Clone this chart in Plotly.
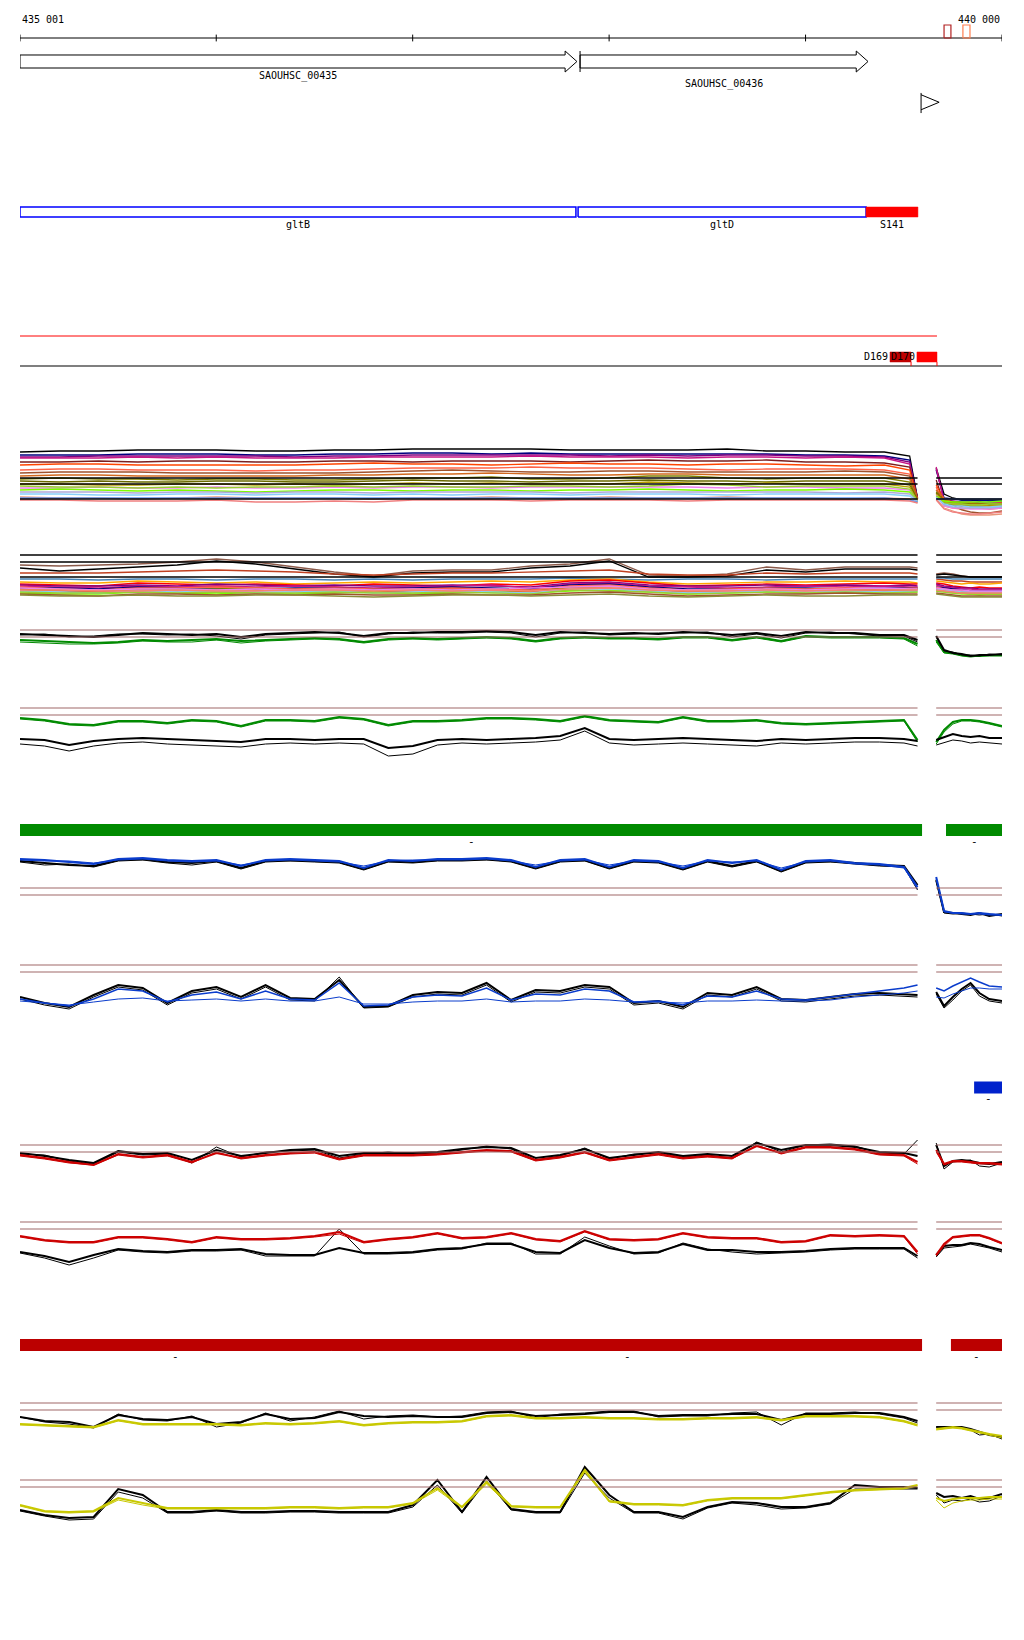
import plotly.graph_objects as go

# the page body adds an 8 px margin, so the figure is 8 px smaller on each axis
PAGE_OFFSET = 8
FIG_W, FIG_H = 1024 - PAGE_OFFSET, 1640 - PAGE_OFFSET
FONT = "DejaVu Sans Mono"

# genomic window shown (bp) and the uncovered stretch between the two blocks
WIN_START, WIN_END = 435001, 440000
GAP_FROM, GAP_TO = 439570, 439665
RIGHT_END = 440000

RULER_TICKS = [435001, 436000, 437000, 438000, 439000, 440000]
MARK_START = [439705, 439801]
MARK_END = [439740, 439837]

GENE_NAMES = ["SAOUHSC_00435", "SAOUHSC_00436"]
GENE_START = [435001, 437852]
GENE_END = [437836, 439318]
TERMINATOR_POS = [439588]

ANNOT_NAMES = ["gltB", "gltD", "S141"]
ANNOT_START = [435001, 437842, 439308]
ANNOT_END = [437831, 439308, 439572]

TRANSCRIPT_END = 439669
D_NAMES = ["D169", "D170"]
D_START = [439430, 439567]
D_END = [439537, 439669]

GREEN_START = [435001, 439715]
GREEN_END = [439593, 440000]
BLUE_START = [439858]
BLUE_END = [440000]
DARKRED_START = [435001, 436589, 439740]
DARKRED_END = [436589, 439593, 440000]

# probe positions (bp)
RIGHT_X = [439665, 439705, 439750, 439795, 439840, 439885, 439935, 440000]
FINE_X = list(range(435001, 439502, 125)) + [439570] + RIGHT_X
COARSE_X = list(range(435001, 439402, 200)) + [439530, 439570] + RIGHT_X

# ---- multi-condition profiles (coarse grid) ----
T1_LINES = [
    [68, 69, 69, 70, 70, 70, 69, 69, 70, 70, 71, 71, 71, 71, 70, 70, 70, 70, 71, 69, 69, 68, 68, 64, 22, 52, 26, 22, 20, 20, 19, 20, 20],
    [65, 65, 65, 66, 66, 66, 65, 65, 66, 66, 67, 67, 66, 67, 66, 66, 66, 66, 66, 66, 65, 65, 64, 60, 21, 50, 22, 21, 20, 20, 20, 19, 19],
    [63, 63, 64, 64, 64, 64, 64, 63, 64, 64, 65, 65, 65, 65, 65, 64, 65, 64, 65, 65, 64, 64, 63, 58, 21, 51, 20, 19, 18, 18, 17, 17, 17],
    [62, 62, 62, 63, 62, 63, 62, 62, 62, 63, 63, 63, 63, 64, 63, 63, 63, 62, 63, 63, 62, 63, 62, 56, 20, 53, 18, 17, 16, 17, 16, 16, 16],
    [58, 58, 59, 58, 59, 59, 58, 58, 59, 59, 58, 59, 59, 59, 58, 59, 60, 59, 59, 60, 58, 58, 57, 53, 22, 40, 16, 15, 14, 15, 14, 14, 15],
    [55, 56, 56, 55, 55, 55, 55, 55, 56, 57, 56, 56, 55, 56, 57, 56, 56, 55, 56, 56, 55, 54, 55, 50, 21, 35, 20, 18, 17, 17, 16, 16, 17],
    [50, 51, 51, 50, 50, 50, 49, 50, 50, 51, 52, 52, 52, 53, 52, 52, 52, 51, 50, 51, 51, 51, 50, 46, 20, 33, 14, 12, 11, 12, 12, 11, 12],
    [47, 48, 48, 48, 47, 47, 47, 47, 47, 48, 49, 50, 49, 48, 48, 49, 49, 48, 48, 48, 48, 49, 48, 44, 21, 30, 18, 15, 10, 8, 7, 7, 9],
    [44, 45, 45, 44, 44, 44, 44, 44, 45, 45, 46, 46, 47, 46, 45, 45, 46, 46, 45, 45, 45, 45, 45, 41, 20, 30, 22, 17, 14, 13, 13, 13, 14],
    [41, 42, 41, 41, 40, 41, 41, 40, 40, 41, 42, 42, 43, 41, 41, 42, 44, 44, 42, 41, 42, 42, 42, 38, 19, 28, 19, 18, 17, 16, 16, 16, 16],
    [39, 38, 39, 38, 38, 39, 39, 38, 38, 39, 40, 39, 39, 38, 39, 39, 40, 39, 39, 38, 39, 39, 39, 35, 20, 27, 17, 15, 15, 14, 14, 15, 14],
    [36, 36, 35, 35, 36, 36, 35, 36, 35, 36, 37, 36, 37, 36, 36, 36, 38, 37, 36, 37, 36, 36, 36, 33, 19, 26, 18, 16, 15, 15, 15, 14, 15],
    [32, 32, 33, 32, 32, 33, 32, 32, 33, 32, 33, 33, 32, 33, 33, 33, 33, 33, 32, 33, 33, 32, 32, 30, 18, 25, 14, 12, 12, 11, 11, 11, 12],
    [34, 33, 33, 32, 33, 32, 33, 33, 34, 33, 34, 33, 33, 34, 34, 33, 34, 36, 35, 33, 34, 34, 34, 31, 19, 24, 17, 16, 16, 15, 15, 16, 16],
    [30, 31, 30, 29, 30, 29, 28, 29, 30, 30, 29, 30, 30, 29, 30, 30, 31, 30, 29, 30, 30, 31, 30, 28, 18, 24, 19, 18, 18, 18, 18, 18, 19],
    [28, 28, 28, 27, 28, 28, 27, 28, 28, 27, 28, 28, 28, 28, 27, 28, 28, 28, 28, 28, 28, 27, 28, 26, 19, 23, 15, 13, 12, 12, 12, 12, 13],
    [26, 26, 25, 25, 26, 26, 25, 26, 26, 25, 26, 25, 26, 26, 25, 26, 26, 26, 25, 26, 26, 26, 26, 24, 18, 22, 16, 14, 14, 13, 13, 13, 14],
    [23, 22, 22, 21, 22, 23, 22, 22, 22, 21, 22, 22, 23, 22, 22, 23, 22, 22, 23, 22, 22, 21, 22, 21, 17, 21, 12, 9, 6, 5, 5, 5, 6],
    [22, 22, 22, 22, 22, 22, 22, 22, 22, 22, 22, 22, 22, 22, 22, 22, 22, 22, 22, 22, 22, 22, 22, 20, 18, 21, 21, 21, 21, 21, 21, 21, 21],
    [20, 20, 19, 19, 19, 20, 18, 18, 19, 18, 20, 20, 20, 19, 20, 20, 20, 19, 20, 20, 20, 20, 20, 19, 17, 20, 11, 8, 7, 6, 6, 7, 8],
]
T1_COLORS = ["#000000", "#000080", "#800080", "#c71585", "#7b1f1f", "#ff4500", "#ff6347",
             "#a0522d", "#d2691e", "#808000", "#6b6b00", "#b8a000", "#ee82ee", "#9acd32",
             "#7cfc00", "#b0a8d8", "#87cefa", "#e9967a", "#6495ed", "#f08080"]
T1_REFS = [42, 36, 21]

T2_LINES = [
    [45, 44, 45, 46, 48, 51, 48, 43, 38, 34, 39, 40, 40, 44, 46, 51, 35, 34, 36, 43, 40, 43, 43, 43, 42, 36, 37, 36, 34, 33, 33, 33, 33],
    [42, 39, 41, 43, 45, 49, 46, 41, 36, 33, 37, 38, 38, 42, 44, 49, 33, 33, 34, 40, 38, 41, 41, 41, 40, 35, 36, 35, 34, 33, 33, 33, 33],
    [37, 37, 37, 38, 39, 40, 39, 38, 36, 35, 36, 37, 37, 38, 39, 40, 36, 35, 35, 37, 36, 37, 37, 37, 36, 31, 30, 29, 29, 28, 28, 28, 28],
    [31, 31, 30, 31, 31, 30, 31, 31, 30, 31, 30, 31, 31, 31, 32, 31, 30, 31, 31, 30, 31, 31, 31, 31, 31, 32, 32, 31, 31, 31, 31, 31, 31],
    [28, 27, 27, 29, 28, 27, 28, 26, 27, 28, 27, 28, 29, 28, 30, 31, 28, 26, 27, 28, 28, 29, 28, 28, 27, 29, 28, 27, 26, 27, 26, 26, 27],
    [26, 25, 24, 27, 26, 25, 26, 25, 24, 26, 25, 24, 26, 25, 29, 30, 27, 24, 25, 26, 25, 26, 27, 26, 26, 27, 26, 24, 23, 22, 23, 22, 22],
    [25, 24, 24, 25, 24, 26, 25, 24, 25, 24, 24, 25, 24, 23, 27, 28, 25, 24, 24, 25, 24, 25, 24, 25, 24, 26, 24, 23, 22, 22, 21, 21, 21],
    [24, 23, 22, 24, 23, 24, 23, 24, 23, 22, 23, 24, 25, 22, 26, 27, 24, 23, 22, 23, 24, 23, 24, 23, 23, 25, 23, 22, 21, 21, 20, 20, 20],
    [22, 22, 21, 23, 22, 22, 21, 22, 22, 21, 22, 23, 22, 21, 25, 26, 23, 21, 21, 22, 22, 21, 22, 22, 22, 23, 22, 21, 20, 19, 19, 19, 19],
    [21, 20, 19, 21, 20, 21, 22, 20, 21, 19, 20, 21, 20, 19, 23, 24, 21, 19, 20, 21, 20, 21, 20, 20, 21, 22, 20, 19, 18, 18, 18, 17, 17],
    [23, 21, 20, 22, 22, 23, 22, 21, 22, 21, 21, 22, 21, 20, 24, 25, 22, 20, 21, 22, 21, 22, 21, 22, 22, 23, 21, 20, 19, 18, 18, 18, 18],
    [20, 19, 18, 20, 19, 20, 20, 19, 19, 18, 19, 20, 19, 18, 22, 22, 20, 18, 19, 20, 19, 20, 19, 19, 20, 21, 19, 18, 17, 16, 16, 16, 16],
    [17, 16, 16, 18, 17, 16, 18, 16, 17, 18, 16, 17, 18, 17, 19, 20, 18, 16, 17, 18, 17, 18, 17, 18, 18, 19, 18, 17, 16, 16, 15, 16, 16],
    [19, 18, 17, 19, 18, 19, 18, 18, 19, 17, 18, 19, 18, 17, 21, 21, 19, 17, 18, 19, 18, 19, 18, 19, 19, 21, 20, 19, 18, 18, 18, 18, 18],
    [22, 21, 20, 21, 21, 20, 21, 20, 21, 20, 21, 20, 21, 22, 23, 24, 21, 20, 20, 21, 20, 21, 22, 21, 21, 22, 21, 20, 20, 19, 19, 19, 19],
    [18, 17, 17, 18, 17, 18, 17, 17, 18, 17, 17, 18, 17, 16, 20, 19, 18, 16, 17, 18, 17, 18, 17, 18, 18, 19, 18, 17, 17, 16, 16, 16, 16],
    [20, 20, 19, 19, 20, 19, 19, 20, 20, 19, 20, 19, 20, 19, 21, 22, 20, 19, 19, 20, 19, 20, 20, 20, 20, 20, 19, 18, 17, 17, 17, 17, 17],
    [16, 15, 14, 16, 16, 15, 16, 15, 16, 15, 15, 16, 15, 15, 17, 18, 16, 14, 15, 16, 16, 17, 16, 16, 16, 17, 16, 15, 14, 14, 14, 14, 14],
    [15, 14, 14, 15, 14, 14, 15, 15, 14, 13, 14, 15, 15, 14, 15, 16, 14, 13, 14, 15, 14, 14, 15, 15, 15, 16, 15, 14, 13, 13, 13, 13, 13],
]
T2_COLORS = ["#8b5a4a", "#000000", "#c04020", "#4682b4", "#ffa500", "#ff0000", "#800080",
             "#c71585", "#000080", "#808000", "#ff6347", "#d2691e", "#7cfc00", "#87cefa",
             "#ee82ee", "#9acd32", "#fa8072", "#a0522d", "#8b8b3a"]
T2_REFS = [55, 48, 33]

# ---- replicate pairs (fine grid): 38 main probes + 8 after the gap ----
T3_BLACK_A = [36, 35, 34, 33, 35, 37, 36, 35, 36, 33, 36, 37, 38, 37, 34, 37, 37, 38, 38, 39,
              38, 35, 38, 37, 36, 37, 36, 38, 37, 35, 37, 34, 38, 37, 37, 35, 35, 30,
              34, 20, 17, 16, 14, 15, 15, 16]
T3_BLACK_B = [35, 36, 33, 34, 36, 36, 35, 36, 34, 31, 35, 36, 37, 38, 33, 36, 38, 37, 37, 38,
              37, 33, 37, 38, 35, 36, 37, 37, 38, 33, 36, 32, 37, 38, 36, 34, 34, 28,
              33, 19, 18, 15, 15, 14, 16, 15]
T3_GREEN_A = [30, 29, 28, 27, 28, 30, 29, 30, 31, 29, 30, 31, 32, 31, 28, 31, 32, 31, 32, 33,
              32, 29, 32, 33, 32, 32, 31, 33, 33, 30, 33, 29, 34, 33, 33, 33, 32, 26,
              30, 18, 17, 15, 14, 14, 15, 15]
T3_GREEN_B = [28, 27, 26, 26, 27, 29, 28, 28, 30, 27, 29, 30, 31, 30, 27, 30, 31, 30, 31, 32,
              31, 28, 31, 32, 31, 31, 30, 32, 32, 29, 32, 28, 33, 32, 32, 32, 31, 24,
              28, 17, 16, 14, 13, 14, 14, 14]

T4_GREEN_A = [42, 40, 36, 35, 39, 39, 37, 40, 39, 34, 40, 40, 39, 43, 41, 35, 39, 39, 40, 42,
              42, 41, 39, 44, 40, 39, 38, 43, 39, 39, 40, 37, 36, 37, 38, 39, 40, 20,
              18, 30, 38, 40, 40, 39, 37, 34]
T4_GREEN_B = [41, 39, 35, 34, 38, 38, 36, 39, 38, 33, 39, 39, 38, 42, 40, 34, 38, 38, 39, 41,
              41, 40, 38, 43, 39, 38, 37, 42, 38, 38, 39, 36, 35, 36, 37, 38, 39, 18,
              16, 28, 36, 39, 39, 38, 36, 33]
T4_BLACK_A = [21, 20, 15, 19, 21, 22, 21, 20, 19, 18, 21, 21, 20, 21, 21, 12, 14, 20, 21, 20,
              21, 22, 24, 32, 21, 20, 21, 22, 21, 20, 19, 21, 20, 21, 22, 22, 21, 19,
              20, 23, 26, 24, 23, 24, 22, 22]
T4_BLACK_B = [16, 14, 9, 14, 17, 18, 16, 15, 14, 13, 16, 17, 16, 17, 16, 4, 6, 15, 17, 16,
              17, 18, 20, 29, 17, 15, 16, 17, 16, 15, 14, 17, 16, 17, 18, 18, 17, 14,
              15, 17, 20, 19, 17, 18, 17, 16]

T5_BLUE_A = [66, 65, 63, 61, 66, 67, 65, 64, 65, 59, 65, 66, 65, 64, 57, 65, 64, 66, 66, 67,
             65, 58, 65, 66, 58, 65, 64, 57, 65, 62, 65, 55, 64, 65, 62, 61, 58, 38,
             48, 14, 12, 12, 11, 12, 11, 10]
T5_BLUE_B = [65, 64, 64, 62, 65, 66, 64, 63, 64, 60, 64, 65, 64, 63, 59, 64, 65, 65, 65, 66,
             64, 60, 64, 65, 60, 64, 63, 59, 64, 63, 64, 57, 63, 64, 61, 60, 57, 36,
             46, 13, 12, 11, 11, 11, 10, 10]
T5_BLACK_A = [64, 62, 60, 59, 65, 66, 63, 62, 64, 57, 64, 65, 64, 63, 56, 64, 63, 65, 65, 66,
              64, 57, 64, 65, 57, 64, 63, 56, 64, 59, 64, 54, 63, 64, 62, 60, 59, 40,
              45, 13, 12, 11, 10, 12, 9, 11]
T5_BLACK_B = [63, 60, 61, 58, 64, 65, 62, 60, 63, 56, 63, 64, 63, 62, 55, 63, 62, 64, 64, 65,
              63, 56, 63, 64, 56, 63, 62, 55, 63, 58, 63, 53, 62, 63, 61, 59, 58, 35,
              44, 12, 11, 12, 11, 10, 11, 9]

T6_BLACK_A = [18, 12, 8, 20, 30, 27, 12, 24, 28, 18, 30, 17, 16, 35, 8, 9, 20, 23, 22, 32,
              15, 25, 24, 30, 28, 12, 14, 8, 22, 20, 28, 16, 15, 18, 21, 22, 21, 20,
              23, 9, 18, 26, 32, 22, 16, 14]
T6_BLACK_B = [16, 10, 6, 18, 28, 25, 10, 22, 26, 16, 28, 15, 14, 38, 7, 8, 18, 21, 20, 30,
              13, 23, 22, 28, 26, 10, 12, 6, 20, 18, 26, 14, 13, 16, 19, 20, 19, 18,
              21, 7, 15, 24, 30, 19, 14, 12]
T6_BLUE_A = [16, 12, 9, 16, 26, 24, 13, 20, 23, 16, 24, 16, 15, 32, 9, 10, 18, 20, 19, 27,
             15, 21, 20, 26, 24, 13, 14, 10, 19, 18, 24, 16, 15, 18, 21, 24, 27, 30,
             27, 24, 29, 33, 37, 33, 29, 28]
T6_BLUE_B = [14, 12, 10, 13, 16, 17, 14, 15, 16, 14, 16, 14, 14, 18, 11, 11, 13, 14, 14, 16,
             13, 14, 14, 16, 15, 13, 13, 12, 14, 14, 15, 14, 14, 15, 18, 20, 22, 24,
             18, 17, 21, 24, 27, 27, 26, 26]

T7_BLACK_A = [27, 24, 20, 17, 29, 26, 27, 20, 30, 24, 27, 30, 31, 24, 27, 27, 27, 28, 31, 33,
              32, 22, 25, 31, 22, 25, 28, 24, 26, 24, 37, 30, 35, 35, 33, 28, 27, 24,
              35, 14, 19, 20, 19, 17, 16, 18]
T7_BLACK_B = [26, 25, 19, 16, 28, 25, 26, 17, 33, 23, 28, 29, 30, 22, 26, 28, 26, 27, 30, 34,
              31, 20, 24, 32, 21, 26, 27, 23, 25, 22, 38, 28, 35, 36, 34, 27, 26, 40,
              37, 11, 18, 19, 20, 14, 13, 17]
T7_RED_A = [25, 22, 18, 15, 26, 23, 25, 18, 27, 22, 25, 27, 28, 21, 25, 25, 25, 26, 28, 30,
            29, 20, 23, 28, 20, 23, 26, 22, 24, 22, 34, 27, 33, 33, 31, 26, 25, 18,
            30, 16, 19, 19, 18, 17, 17, 16]
T7_RED_B = [24, 21, 17, 15, 25, 22, 24, 17, 28, 21, 24, 26, 27, 20, 24, 24, 24, 25, 27, 29,
            28, 19, 22, 27, 19, 22, 25, 21, 23, 21, 35, 26, 32, 32, 30, 25, 24, 16,
            28, 15, 18, 18, 17, 16, 16, 15]

T8_RED_A = [34, 30, 28, 28, 33, 33, 31, 28, 33, 31, 31, 32, 34, 38, 28, 31, 33, 37, 32, 33,
            37, 31, 29, 39, 31, 30, 31, 37, 33, 32, 32, 28, 29, 35, 34, 35, 34, 18,
            15, 26, 33, 34, 35, 35, 32, 27]
T8_RED_B = [33, 29, 27, 27, 32, 32, 30, 27, 32, 30, 30, 31, 33, 36, 27, 30, 32, 36, 31, 32,
            36, 30, 28, 38, 30, 29, 30, 36, 32, 31, 31, 27, 28, 34, 33, 34, 33, 16,
            14, 24, 32, 33, 34, 34, 31, 26]
T8_BLACK_A = [18, 14, 8, 15, 21, 19, 18, 20, 20, 21, 16, 15, 15, 22, 17, 17, 18, 21, 22, 26,
              26, 18, 17, 30, 22, 17, 18, 26, 20, 20, 18, 18, 19, 21, 22, 22, 22, 14,
              15, 24, 25, 25, 27, 26, 23, 20]
T8_BLACK_B = [17, 12, 5, 12, 20, 18, 17, 19, 19, 20, 14, 14, 14, 41, 16, 16, 17, 20, 21, 27,
              27, 16, 16, 33, 24, 16, 17, 27, 21, 18, 16, 17, 18, 20, 21, 21, 21, 12,
              13, 22, 23, 24, 26, 24, 22, 18]

T9_BLACK_A = [28, 24, 23, 18, 30, 26, 25, 28, 21, 23, 31, 26, 27, 33, 29, 28, 29, 28, 28, 32,
              33, 29, 30, 31, 33, 33, 29, 30, 30, 31, 31, 25, 31, 31, 32, 32, 28, 24,
              18, 18, 18, 18, 16, 13, 10, 8]
T9_BLACK_B = [28, 23, 21, 17, 31, 25, 24, 29, 18, 22, 32, 24, 28, 34, 26, 29, 30, 28, 29, 33,
              34, 27, 31, 32, 34, 34, 28, 29, 29, 32, 33, 20, 32, 32, 33, 31, 27, 22,
              18, 18, 18, 17, 15, 10, 11, 6]
T9_YELLOW_A = [21, 20, 19, 18, 25, 21, 21, 21, 21, 20, 22, 21, 22, 24, 20, 22, 23, 23, 24, 29,
               30, 27, 27, 28, 27, 27, 26, 26, 27, 27, 28, 25, 29, 29, 29, 28, 24, 20,
               16, 17, 18, 17, 15, 13, 11, 9]
T9_YELLOW_B = [20, 19, 18, 17, 24, 20, 20, 20, 20, 19, 21, 20, 21, 23, 19, 21, 22, 22, 23, 28,
               29, 26, 26, 27, 26, 26, 25, 25, 26, 26, 27, 24, 28, 28, 28, 27, 23, 19,
               15, 16, 17, 16, 14, 12, 10, 7]

T10_BLACK_A = [15, 10, 7, 8, 36, 30, 13, 13, 15, 13, 13, 14, 14, 13, 13, 13, 20, 45, 13, 48,
               16, 13, 13, 58, 30, 13, 13, 8, 18, 23, 22, 18, 18, 22, 40, 38, 38, 37,
               32, 28, 29, 27, 29, 26, 27, 31]
T10_BLACK_B = [14, 9, 5, 6, 33, 27, 12, 12, 14, 12, 12, 13, 13, 12, 12, 12, 18, 40, 12, 44,
               15, 12, 12, 52, 27, 12, 12, 6, 17, 22, 20, 16, 17, 21, 36, 36, 36, 36,
               30, 22, 25, 24, 26, 23, 24, 29]
T10_YELLOW_A = [20, 14, 13, 14, 27, 22, 17, 17, 17, 17, 17, 18, 18, 17, 18, 18, 22, 37, 18, 43,
                19, 18, 18, 55, 24, 21, 21, 20, 25, 27, 27, 27, 30, 33, 35, 36, 37, 40,
                27, 24, 26, 27, 27, 27, 28, 28]
T10_YELLOW_B = [19, 13, 12, 13, 25, 20, 16, 16, 16, 16, 16, 17, 17, 16, 17, 17, 21, 35, 17, 41,
                18, 17, 17, 53, 23, 20, 20, 19, 24, 26, 26, 26, 29, 32, 34, 35, 36, 39,
                25, 17, 22, 24, 25, 25, 26, 26]

# ---- styling ----
GREEN = "#008a00"
BLUE = "#0a3ccc"
RED = "#cc0000"
YELLOW = "#c8c800"
BLACK = "#000000"
REF_BROWN = "#a06868"

fig = go.Figure()
yaxes = {}


def band(top, bottom):
    # page pixel rows -> paper fraction of the (offset) figure
    return [1 - (bottom - PAGE_OFFSET) / FIG_H, 1 - (top - PAGE_OFFSET) / FIG_H]


def new_axis(top, bottom, rng):
    n = len(yaxes) + 1
    yaxes["yaxis" if n == 1 else f"yaxis{n}"] = dict(
        domain=band(top, bottom), range=rng, visible=False, fixedrange=True, anchor="x"
    )
    return "y" if n == 1 else f"y{n}"


def add_line(ya, xs, ys, color, width=1.0, fill=None, fillcolor=None):
    fig.add_trace(go.Scatter(
        x=xs, y=ys, xaxis="x", yaxis=ya, mode="lines",
        line=dict(color=color, width=width, shape="linear"),
        fill=fill, fillcolor=fillcolor, connectgaps=False, hoverinfo="skip",
    ))


def add_text(ya, x, y, text, anchor="center", size=10, color=BLACK):
    fig.add_annotation(x=x, y=y, xref="x", yref=ya, text=text, showarrow=False,
                       xanchor=anchor, yanchor="middle",
                       font=dict(family=FONT, size=size, color=color))


def gapped(xs, ys):
    ox, oy = [], []
    for i, (x, y) in enumerate(zip(xs, ys)):
        if i and xs[i - 1] <= GAP_FROM and x >= GAP_TO:
            ox.append(None)
            oy.append(None)
        ox.append(x)
        oy.append(y)
    return ox, oy


def rect_path(x0, x1, y0, y1):
    return [x0, x1, x1, x0, x0], [y0, y0, y1, y1, y0]


# ---- ruler ----
ya = new_axis(18, 58, [-1, 1])
add_line(ya, [WIN_START, WIN_END], [0, 0], BLACK, 1)
tx, ty = [], []
for t in RULER_TICKS:
    tx += [t, t, None]
    ty += [-0.17, 0.17, None]
add_line(ya, tx, ty, BLACK, 1)
add_text(ya, WIN_START, 0.9, f"{WIN_START:,}".replace(",", " "), "left")
add_text(ya, WIN_END, 0.9, f"{WIN_END:,}".replace(",", " "), "right")
for s, e, c in zip(MARK_START, MARK_END, ["#b22222", "#ff7f50"]):
    px_, py_ = rect_path(s, e, 0, 0.65)
    add_line(ya, px_, py_, c, 1.2)

# ---- genes ----
ya = new_axis(31.5, 91.5, [-1, 1])
HEAD_BP = 60
for i, (name, s, e) in enumerate(zip(GENE_NAMES, GENE_START, GENE_END)):
    bh, hh = 0.217, 0.35
    add_line(ya, [s, e - HEAD_BP, e - HEAD_BP, e, e - HEAD_BP, e - HEAD_BP, s, s],
             [-bh, -bh, -hh, 0, hh, bh, bh, -bh], BLACK, 1)
    if s > WIN_START:
        add_line(ya, [s, s], [-hh, hh], BLACK, 1)
    add_text(ya, (s + e) / 2, [-0.48, -0.75][i % 2], name)

ya = new_axis(88, 118, [-1, 1])
for p in TERMINATOR_POS:
    add_line(ya, [p, p, None, p, p + 92, p], [-0.67, 0.67, None, 0.55, 0.05, -0.45], BLACK, 1)

# ---- annotation boxes ----
ya = new_axis(192, 232, [-1, 1])
for name, s, e in zip(ANNOT_NAMES, ANNOT_START, ANNOT_END):
    px_, py_ = rect_path(s, e, -0.25, 0.25)
    if name.startswith("S"):
        add_line(ya, px_, py_, "#ff0000", 0.5, "toself", "#ff0000")
    else:
        add_line(ya, px_, py_, "#0000ff", 1.5)
    add_text(ya, (s + e) / 2, -0.6, name)

# ---- transcript row ----
ya = new_axis(326, 376, [-1, 1])
add_line(ya, [WIN_START, TRANSCRIPT_END], [0.6, 0.6], "#ff0000", 1)
add_line(ya, [WIN_START, RIGHT_END], [-0.6, -0.6], BLACK, 1.2)
for name, s, e, c in zip(D_NAMES, D_START, D_END, ["#c00000", "#ff0000"]):
    px_, py_ = rect_path(s, e, -0.44, -0.04)
    add_line(ya, px_, py_, c, 0.5, "toself", c)
    add_line(ya, [e, e], [-0.44, -0.6], "#ff0000", 1)
    add_text(ya, s, -0.24, name, "right", 10)

# ---- signal tracks ----
SIGNAL = [
    (440, 520, COARSE_X, T1_LINES, T1_COLORS, [1.3] * len(T1_LINES), T1_REFS, BLACK),
    (540, 610, COARSE_X, T2_LINES, T2_COLORS, [1.3] * len(T2_LINES), T2_REFS, BLACK),
    (620, 670, FINE_X, [T3_GREEN_B, T3_GREEN_A, T3_BLACK_B, T3_BLACK_A],
     [GREEN, GREEN, BLACK, BLACK], [1, 2, 1, 2], [40, 33], REF_BROWN),
    (700, 760, FINE_X, [T4_GREEN_B, T4_GREEN_A, T4_BLACK_B, T4_BLACK_A],
     [GREEN, GREEN, BLACK, BLACK], [1, 2, 1, 2], [52, 45], REF_BROWN),
    (845, 925, FINE_X, [T5_BLACK_B, T5_BLACK_A, T5_BLUE_B, T5_BLUE_A],
     [BLACK, BLACK, BLUE, BLUE], [1, 2, 1, 2], [37, 30], REF_BROWN),
    (955, 1015, FINE_X, [T6_BLACK_B, T6_BLACK_A, T6_BLUE_B, T6_BLUE_A],
     [BLACK, BLACK, BLUE, BLUE], [1, 2, 1, 1.5], [50, 43], REF_BROWN),
    (1130, 1180, FINE_X, [T7_BLACK_B, T7_BLACK_A, T7_RED_B, T7_RED_A],
     [BLACK, BLACK, RED, RED], [1, 2, 1, 2], [35, 28], REF_BROWN),
    (1210, 1270, FINE_X, [T8_BLACK_B, T8_BLACK_A, T8_RED_B, T8_RED_A],
     [BLACK, BLACK, RED, RED], [1, 2, 1, 2], [48, 41], REF_BROWN),
    (1395, 1445, FINE_X, [T9_BLACK_B, T9_BLACK_A, T9_YELLOW_B, T9_YELLOW_A],
     [BLACK, BLACK, YELLOW, YELLOW], [1, 2, 1, 2], [42, 35], REF_BROWN),
    (1455, 1525, FINE_X, [T10_BLACK_B, T10_BLACK_A, T10_YELLOW_B, T10_YELLOW_A],
     [BLACK, BLACK, YELLOW, YELLOW], [1, 2, 1, 2], [45, 38], REF_BROWN),
]

for top, bottom, xs, series, colors, widths, refs, ref_color in SIGNAL:
    ya = new_axis(top, bottom, [0, bottom - top])
    for vals, c, w in zip(series, colors, widths):
        assert len(vals) == len(xs), (top, len(vals), len(xs))
        gx, gy = gapped(xs, vals)
        add_line(ya, gx, gy, c, w)
    for v in refs:
        add_line(ya, [WIN_START, GAP_FROM, None, GAP_TO, RIGHT_END], [v, v, None, v, v],
                 ref_color, 1.3 if ref_color == BLACK else 1.1)

# ---- feature bars ----
for centre, starts, ends, color in [
    (830, GREEN_START, GREEN_END, GREEN),
    (1087.5, BLUE_START, BLUE_END, "#0022cc"),
    (1345, DARKRED_START, DARKRED_END, "#bb0000"),
]:
    ya = new_axis(centre - 20, centre + 20, [-1, 1])
    bx, by = [], []
    for s, e in zip(starts, ends):
        px_, py_ = rect_path(s, e, -0.3, 0.3)
        bx += px_ + [None]
        by += py_ + [None]
        add_text(ya, (s + e) / 2, -0.55, "-", "center", 11)
    add_line(ya, bx, by, color, 0, "toself", color)

fig.update_layout(
    width=FIG_W, height=FIG_H,
    margin=dict(l=0, r=0, t=0, b=0),
    paper_bgcolor="white", plot_bgcolor="rgba(0,0,0,0)",
    showlegend=False,
    xaxis=dict(domain=[(20 - PAGE_OFFSET) / FIG_W, (1002 - PAGE_OFFSET) / FIG_W],
               range=[WIN_START, WIN_END], visible=False, fixedrange=True),
    **yaxes,
)

fig.write_html("out.html")
